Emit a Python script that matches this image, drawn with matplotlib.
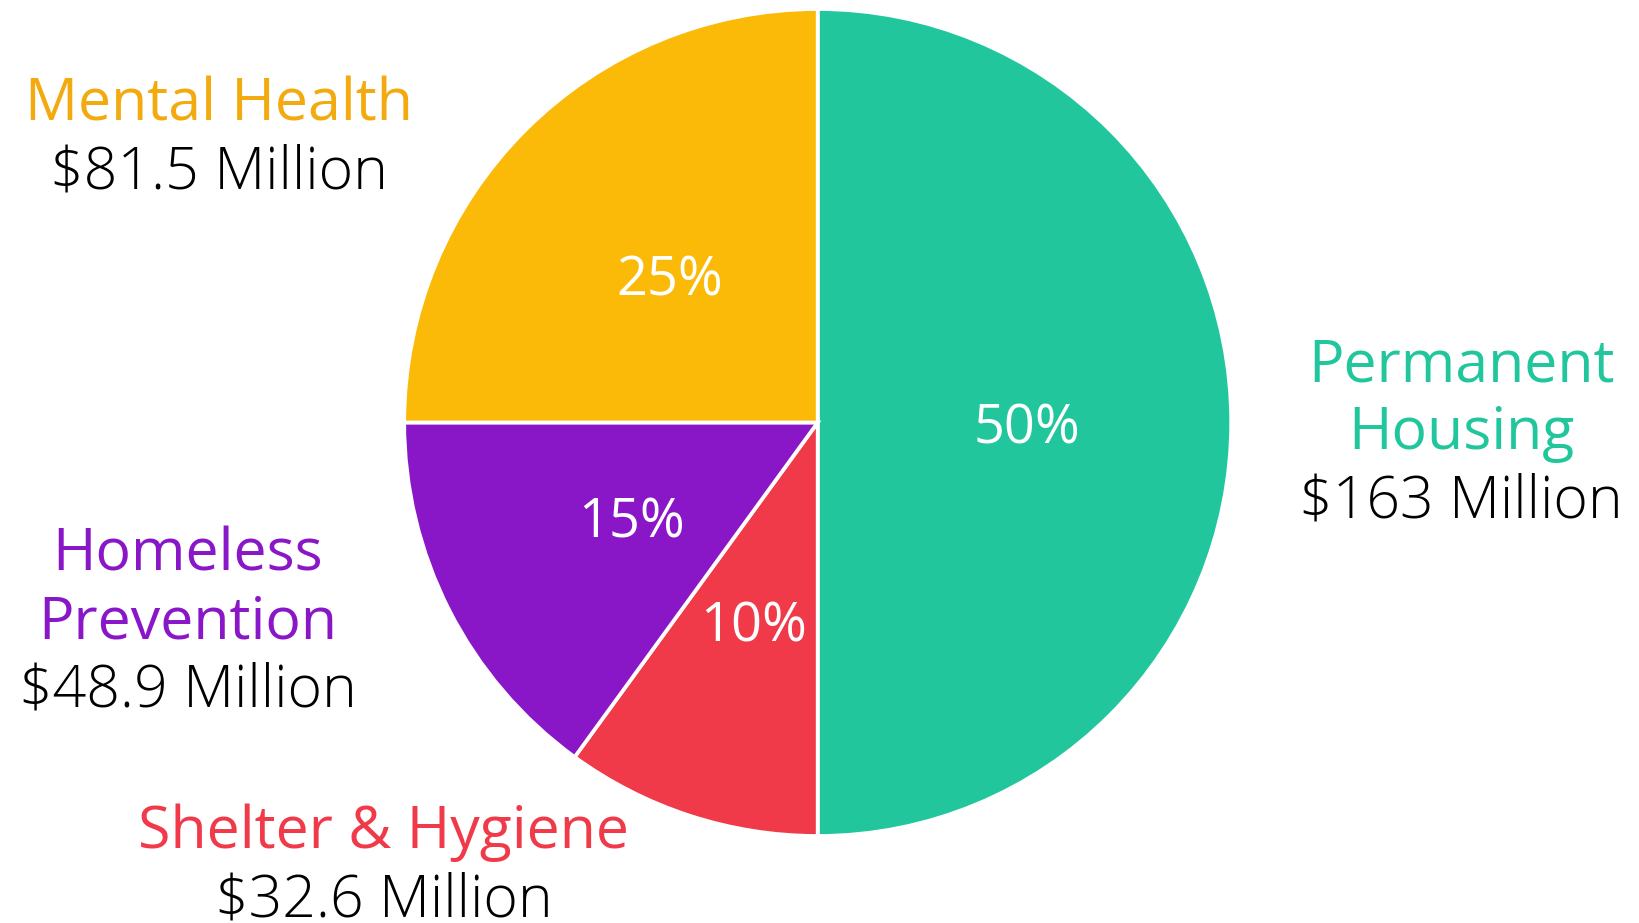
import matplotlib
matplotlib.use("Agg")
import matplotlib.pyplot as plt

# budget split (clockwise from 12 o'clock)
categories = ["Permanent Housing", "Shelter & Hygiene", "Homeless Prevention", "Mental Health"]
shares = [50, 10, 15, 25]
amounts = ["$163 Million", "$32.6 Million", "$48.9 Million", "$81.5 Million"]
slice_colors = ["#21C69D", "#F03A4A", "#8A17C7", "#FBBA07"]
text_colors = ["#21C69D", "#F03A4A", "#8A17C7", "#F2AA0E"]

plt.rcParams['font.family'] = ['Open Sans', 'DejaVu Sans']

W, H = 1639, 923
fig = plt.figure(figsize=(W / 100, H / 100), dpi=100)
ax = fig.add_axes([0, 0, 1, 1])

cx, cy, r = 817.7, H - 422.5, 413.5
wedges, _, pct_texts = ax.pie(
    shares, colors=slice_colors, startangle=90, counterclock=False,
    center=(cx, cy), radius=r, autopct='%d%%', pctdistance=0.505,
    wedgeprops=dict(edgecolor='white', linewidth=2.7),
    textprops=dict(color='white', fontsize=39), frame=True)
ax.set_xlim(0, W)
ax.set_ylim(0, H)
ax.set_aspect('equal')
ax.axis('off')
for t in pct_texts:
    px, py = t.get_position()
    t.set_position((px, py - 6))

# label blocks: (x, y of first line) in pixels from top-left
label_pos = {
    "Permanent Housing": (1461, 366, "Permanent\nHousing"),
    "Shelter & Hygiene": (384, 833, "Shelter & Hygiene"),
    "Homeless Prevention": (188, 555, "Homeless\nPrevention"),
    "Mental Health": (219, 105, "Mental Health"),
}
line_h = 68
for cat, amt, tc in zip(categories, amounts, text_colors):
    x, y, name = label_pos[cat]
    lines = name.split("\n")
    for i, ln in enumerate(lines):
        ax.text(x, H - (y + i * line_h), ln, color=tc, fontsize=42.5,
                ha='center', va='center')
    ax.text(x, H - (y + len(lines) * line_h), amt, color='black',
            fontsize=42.5, ha='center', va='center', fontweight='light')

fig.savefig("out.png", dpi=100)
